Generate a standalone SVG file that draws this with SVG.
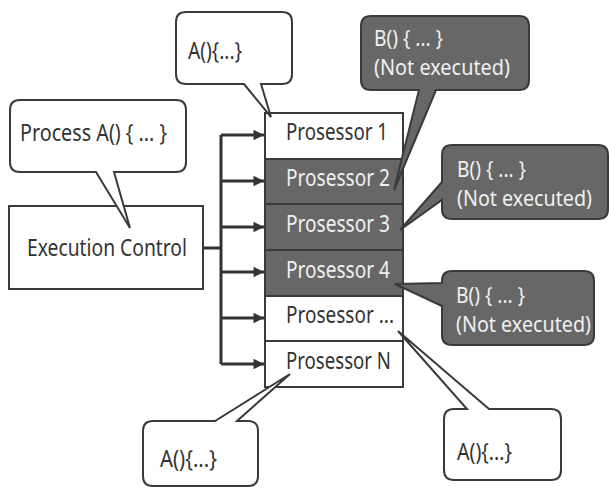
<svg xmlns="http://www.w3.org/2000/svg" width="609" height="487" viewBox="0 0 609 487">
<style>
text{font-family:"Noto Sans","Liberation Sans",sans-serif;font-size:24px;}
.lt{fill:#fff;stroke:#3a3a3a;stroke-width:2;}
.dk{fill:#676767;stroke:#3a3a3a;stroke-width:2;}
.tl{fill:#333;}
.td{fill:#f0f0f0;}
.sm{font-size:21px;}
.bus{fill:none;stroke:#333;stroke-width:3;}
</style>
<defs>
<marker id="ah" viewBox="0 0 10 10" refX="10" refY="5" markerWidth="4" markerHeight="3.5" markerUnits="strokeWidth" orient="auto"><path d="M0,0 L10,5 L0,10 Z" fill="#333"/></marker>
</defs>
<rect width="609" height="487" fill="#fff"/>
<g id="connectors">
<path class="bus" d="M203,248 H221 M221,135 V364"/>
<path class="bus" d="M221,135 H264" marker-end="url(#ah)"/>
<path class="bus" d="M221,181 H264" marker-end="url(#ah)"/>
<path class="bus" d="M221,227 H264" marker-end="url(#ah)"/>
<path class="bus" d="M221,272 H264" marker-end="url(#ah)"/>
<path class="bus" d="M221,318 H264" marker-end="url(#ah)"/>
<path class="bus" d="M221,364 H264" marker-end="url(#ah)"/>
</g>
<g id="exec">
<rect class="lt" x="9" y="206" width="194" height="83"/>
<text class="tl" x="27" y="256" textLength="160" lengthAdjust="spacingAndGlyphs">Execution Control</text>
</g>
<g id="p1"><rect class="lt" x="265" y="113" width="138" height="46"/><text class="tl" x="286" y="140" textLength="102" lengthAdjust="spacingAndGlyphs">Prosessor 1</text></g>
<g id="p2"><rect class="dk" x="265" y="159" width="138" height="45"/><text class="td" x="286" y="186" textLength="104" lengthAdjust="spacingAndGlyphs">Prosessor 2</text></g>
<g id="p3"><rect class="dk" x="265" y="204" width="138" height="46"/><text class="td" x="286" y="232" textLength="104" lengthAdjust="spacingAndGlyphs">Prosessor 3</text></g>
<g id="p4"><rect class="dk" x="265" y="250" width="138" height="46"/><text class="td" x="286" y="278" textLength="104" lengthAdjust="spacingAndGlyphs">Prosessor 4</text></g>
<g id="p5"><rect class="lt" x="265" y="296" width="138" height="45"/><text class="tl" x="286" y="323" textLength="108" lengthAdjust="spacingAndGlyphs">Prosessor ...</text></g>
<g id="pN"><rect class="lt" x="265" y="341" width="138" height="46"/><text class="tl" x="286" y="369" textLength="105" lengthAdjust="spacingAndGlyphs">Prosessor N</text></g>
<g id="c-a-top">
<path class="lt" d="M186,12 H282 Q292,12 292,22 V74 Q292,84 282,84 H261 L271,117 L244,84 H186 Q176,84 176,74 V22 Q176,12 186,12 Z"/>
<text class="tl" x="188" y="59" textLength="54" lengthAdjust="spacingAndGlyphs">A(){...}</text>
</g>
<g id="c-process">
<path class="lt" d="M20,100 H176 Q186,100 186,110 V162 Q186,172 176,172 H114 L130,228 L96,172 H20 Q10,172 10,162 V110 Q10,100 20,100 Z"/>
<text class="tl" x="20" y="141" textLength="147" lengthAdjust="spacingAndGlyphs">Process A() { ... }</text>
</g>
<g id="c-b1">
<path class="dk" d="M371,16 H519 Q529,16 529,26 V80 Q529,90 519,90 H436 L394,190 L419,90 H371 Q361,90 361,80 V26 Q361,16 371,16 Z"/>
<text class="td sm" x="374" y="46" textLength="69" lengthAdjust="spacingAndGlyphs">B() { ... }</text>
<text class="td sm" x="374" y="75" textLength="136" lengthAdjust="spacingAndGlyphs">(Not executed)</text>
</g>
<g id="c-b2">
<path class="dk" d="M452,145 H598 Q608,145 608,155 V209 Q608,219 598,219 H452 Q442,219 442,209 V200 L400,230 L442,182 V155 Q442,145 452,145 Z"/>
<text class="td sm" x="457" y="177" textLength="69" lengthAdjust="spacingAndGlyphs">B() { ... }</text>
<text class="td sm" x="457" y="206" textLength="135" lengthAdjust="spacingAndGlyphs">(Not executed)</text>
</g>
<g id="c-b3">
<path class="dk" d="M452,271 H584 Q594,271 594,281 V335 Q594,345 584,345 H452 Q442,345 442,335 V306 L395,284 L442,283 V281 Q442,271 452,271 Z"/>
<text class="td sm" x="456" y="303" textLength="69" lengthAdjust="spacingAndGlyphs">B() { ... }</text>
<text class="td sm" x="456" y="332" textLength="135" lengthAdjust="spacingAndGlyphs">(Not executed)</text>
</g>
<g id="c-a-bl">
<path class="lt" d="M153,421 H215 L290,374 L237,421 H248 Q258,421 258,431 V476 Q258,486 248,486 H153 Q143,486 143,476 V431 Q143,421 153,421 Z"/>
<text class="tl" x="160" y="467" textLength="57" lengthAdjust="spacingAndGlyphs">A(){...}</text>
</g>
<g id="c-a-br">
<path class="lt" d="M454,409 H467 L398,331 L489,409 H551 Q561,409 561,419 V470 Q561,480 551,480 H454 Q444,480 444,470 V419 Q444,409 454,409 Z"/>
<text class="tl" x="457" y="460" textLength="55" lengthAdjust="spacingAndGlyphs">A(){...}</text>
</g>
</svg>
